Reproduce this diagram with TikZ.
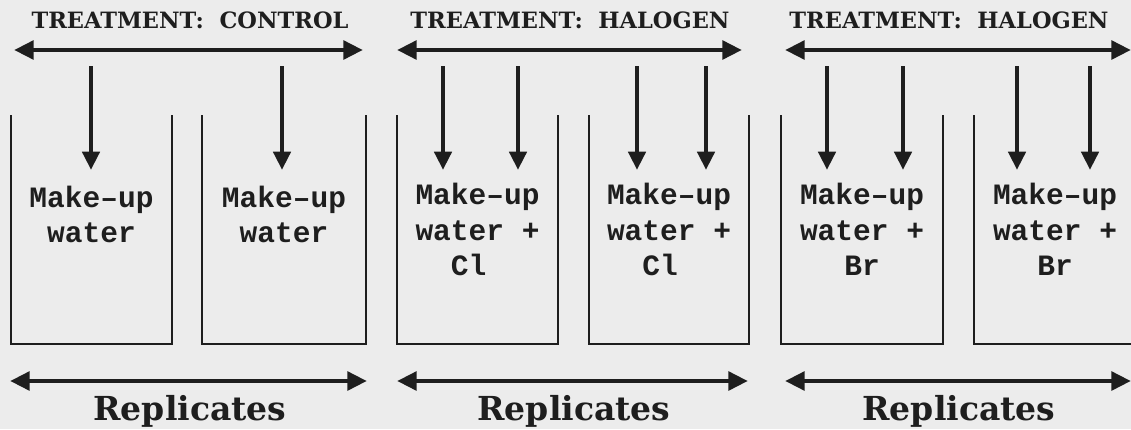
\documentclass[tikz,border=0pt]{standalone}
\usepackage{fontspec}
\setmainfont{DejaVu Serif}
\newfontfamily\typefont{Liberation Mono}
\usepackage{xcolor}
\usetikzlibrary{arrows.meta, positioning}

\definecolor{ink}{RGB}{30,30,30}
\definecolor{paper}{RGB}{236,236,236}

\tikzset{
  bigarrow/.style={{Triangle[length=14pt,width=13pt]}-{Triangle[length=14pt,width=13pt]}, line width=3.4pt, draw=ink},
  downarrow/.style={-{Triangle[length=13pt,width=12pt]}, line width=3.4pt, draw=ink},
  tankwall/.style={line width=1.4pt, draw=ink},
  treat/.style={anchor=base, text=ink, font=\fontsize{16}{18}\selectfont\bfseries},
  repl/.style={anchor=base, text=ink, font=\fontsize{23.5}{26}\selectfont\bfseries},
  tanktext/.style={anchor=base, align=center, text=ink, font=\typefont\fontsize{21}{24.9}\selectfont\bfseries}
}

\begin{document}
\begin{tikzpicture}[x=0.25cm, y=0.25cm]
  \fill[paper] (0,0) rectangle (113.1,42.9);
  \useasboundingbox (0,0) rectangle (113.1,42.9);
  % ---------- CONTROL ----------
  \begin{scope}[xshift=1.1*0.25cm]
    \node[treat] (treatC) at (17.9,40.1) {TREATMENT:~ CONTROL};
    \coordinate (TL) at (0.3,37.9);
    \coordinate (TR) at (35.2,37.9);
    \draw[bigarrow] (TL) -- (TR);
    \foreach \x [count=\i] in {8.0,27.1} {
      \coordinate (in\i) at (\x,36.3);
      \coordinate (out\i) at (\x,25.9);
      \draw[downarrow] (in\i) -- (out\i);
    }
    \draw[tankwall] (0,31.4) |- (16.1,8.5) -- (16.1,31.4);
    \draw[tankwall] (19.1,31.4) |- (35.5,8.5) -- (35.5,31.4);
    \node[tanktext] (waterA) at (8.05,18.7) {Make–up\\water};
    \node[tanktext] (waterB) at (27.3,18.7) {Make–up\\water};
    \coordinate (BL) at (-0.1,4.8);
    \coordinate (BR) at (35.6,4.8);
    \draw[bigarrow] (BL) -- (BR);
    \node[repl] (replC) at (17.9,0.9) {Replicates};
  \end{scope}
  % ---------- CHLORINE ----------
  \begin{scope}[xshift=39.7*0.25cm]
    \node[treat] (treatCl) at (17.3,40.1) {TREATMENT:~ HALOGEN};
    \coordinate (TL) at (0,37.9);
    \coordinate (TR) at (34.5,37.9);
    \draw[bigarrow] (TL) -- (TR);
    \foreach \x [count=\i] in {4.6,12.1,24.0,30.9} {
      \coordinate (in\i) at (\x,36.3);
      \coordinate (out\i) at (\x,25.9);
      \draw[downarrow] (in\i) -- (out\i);
    }
    \draw[tankwall] (0,31.4) |- (16.1,8.5) -- (16.1,31.4);
    \draw[tankwall] (19.2,31.4) |- (35.2,8.5) -- (35.2,31.4);
    \node[tanktext] (clA) at (8.05,15.4) {Make–up\\water +\\Cl\phantom{x}};
    \node[tanktext] (clB) at (27.2,15.4) {Make–up\\water +\\Cl\phantom{x}};
    \coordinate (BL) at (0,4.8);
    \coordinate (BR) at (35.1,4.8);
    \draw[bigarrow] (BL) -- (BR);
    \node[repl] (replCl) at (17.7,0.9) {Replicates};
  \end{scope}
  % ---------- BROMINE ----------
  \begin{scope}[xshift=78.1*0.25cm]
    \node[treat] (treatBr) at (16.8,40.1) {TREATMENT:~ HALOGEN};
    \coordinate (TL) at (0.4,37.9);
    \coordinate (TR) at (35.0,37.9);
    \draw[bigarrow] (TL) -- (TR);
    \foreach \x [count=\i] in {4.6,12.2,23.6,30.9} {
      \coordinate (in\i) at (\x,36.3);
      \coordinate (out\i) at (\x,25.9);
      \draw[downarrow] (in\i) -- (out\i);
    }
    \draw[tankwall] (0,31.4) |- (16.2,8.5) -- (16.2,31.4);
    \draw[tankwall] (19.3,31.4) |- (36.0,8.5) -- (36.0,31.4);
    \node[tanktext] (brA) at (8.1,15.4) {Make–up\\water +\\Br};
    \node[tanktext] (brB) at (27.4,15.4) {Make–up\\water +\\Br};
    \coordinate (BL) at (0.4,4.8);
    \coordinate (BR) at (35.0,4.8);
    \draw[bigarrow] (BL) -- (BR);
    \node[repl] (replBr) at (17.8,0.9) {Replicates};
  \end{scope}
\end{tikzpicture}
\end{document}
